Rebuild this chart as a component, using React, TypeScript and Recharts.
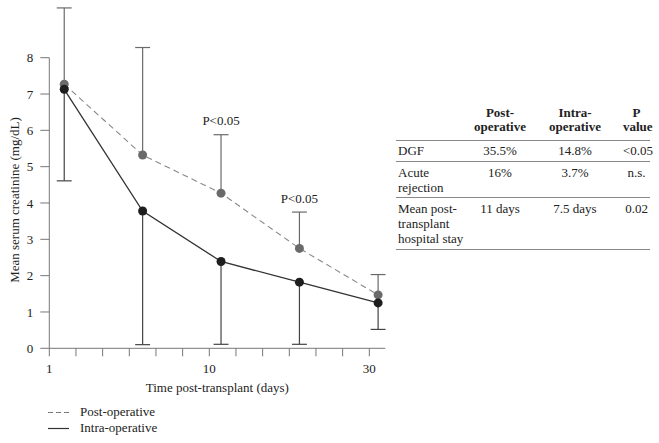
import React from "react";
import { ComposedChart, Line, XAxis, YAxis, ReferenceLine, ReferenceDot, Legend } from "recharts";

// position on the (non-linear) time axis, in tick steps: day 1 -> 0, day 10 -> 6, day 30 -> 12
const timePoints = [0.56, 3.5, 6.44, 9.38, 12.33];

const postMean = [7.27, 5.32, 4.27, 2.75, 1.47];
const postErr = [2.1, 2.96, 1.61, 1.0, 0.56];
const intraMean = [7.13, 3.78, 2.39, 1.82, 1.25];
const intraErr = [2.52, 3.68, 2.28, 1.71, 0.73];
const pLabels = ["", "", "P<0.05", "P<0.05", ""];

const xTicks = [0, 1, 2, 3, 4, 5, 6, 7, 8, 9, 10, 11, 12];
const xTickLabels: Record<number, string> = { 0: "1", 6: "10", 12: "30" };
const yTicks = [0, 1, 2, 3, 4, 5, 6, 7, 8];

const seriesNames = ["Post-operative", "Intra-operative"];

const tableHeader = [["", ""], ["Post-", "operative"], ["Intra-", "operative"], ["P", "value"]];
const tableRows = [
  [["DGF"], ["35.5%"], ["14.8%"], ["<0.05"]],
  [["Acute", "rejection"], ["16%"], ["3.7%"], ["n.s."]],
  [["Mean post-", "transplant", "hospital stay"], ["11 days"], ["7.5 days"], ["0.02"]],
];

const FONT = '"Liberation Serif", "Times New Roman", serif';
const POST_COLOR = "#6a6a6a";
const INTRA_COLOR = "#1e1e1e";
const AXIS_COLOR = "#777";
const CAP = 0.28;

const data = timePoints.map((t, i) => ({ t, post: postMean[i], intra: intraMean[i] }));

function LegendBox() {
  return (
    <div style={{ fontFamily: FONT, fontSize: 13, color: "#222" }}>
      {seriesNames.map((name, i) => (
        <div key={name} style={{ display: "flex", alignItems: "center", height: 16, lineHeight: "16px" }}>
          <svg width={32} height={16} style={{ display: "block" }}>
            <line
              x1={8}
              x2={29}
              y1={8.5}
              y2={8.5}
              stroke={i === 0 ? "#777" : "#333"}
              strokeWidth={1.2}
              strokeDasharray={i === 0 ? "5 3" : undefined}
            />
          </svg>
          <span style={{ marginLeft: 8 }}>{name}</span>
        </div>
      ))}
    </div>
  );
}

export default function App() {
  const cellPad = (col: number) =>
    col === 0 ? "0 0 0 2px" : col === 3 ? "0 0 0 8px" : "0";
  const colWidths = [69, 70, 80, 35];
  const rowPads = ["2px 0 3px", "3px 0 2px", "3px 0 3px"];

  return (
    <div style={{ position: "absolute", left: 0, top: 0, width: 659, height: 443, fontFamily: FONT, background: "#fff" }}>
      <ComposedChart
        width={659}
        height={443}
        data={data}
        margin={{ top: 3.2, right: 273.7, bottom: 50.7, left: 9.3 }}
        style={{ fontFamily: FONT }}
      >
        <XAxis
          dataKey="t"
          type="number"
          domain={[0, 12.6]}
          ticks={xTicks}
          interval={0}
          tickFormatter={(v: number) => xTickLabels[v] ?? ""}
          stroke={AXIS_COLOR}
          tickSize={8}
          tickMargin={7}
          height={44}
          tick={{ fill: "#222", fontSize: 13 }}
          label={{ value: "Time post-transplant (days)", position: "insideBottom", offset: 0, fill: "#222", fontSize: 13 }}
        />
        <YAxis
          type="number"
          domain={[0, 9.5]}
          ticks={yTicks}
          interval={0}
          axisLine={false}
          stroke={AXIS_COLOR}
          tickSize={9}
          tickMargin={7}
          width={40}
          tick={{ fill: "#222", fontSize: 13 }}
        />
        <ReferenceLine segment={[{ x: 0, y: 0 }, { x: 0, y: 8 }]} stroke={AXIS_COLOR} ifOverflow="visible" />

        {timePoints.map((t, i) => (
          <ReferenceLine
            key={"pv" + i}
            segment={[{ x: t, y: postMean[i] }, { x: t, y: postMean[i] + postErr[i] }]}
            stroke={POST_COLOR}
            strokeWidth={1.2}
            ifOverflow="visible"
          />
        ))}
        {timePoints.map((t, i) => (
          <ReferenceLine
            key={"pc" + i}
            segment={[{ x: t - CAP, y: postMean[i] + postErr[i] }, { x: t + CAP, y: postMean[i] + postErr[i] }]}
            stroke={POST_COLOR}
            strokeWidth={1.2}
            ifOverflow="visible"
          />
        ))}
        {timePoints.map((t, i) => (
          <ReferenceLine
            key={"iv" + i}
            segment={[{ x: t, y: intraMean[i] }, { x: t, y: intraMean[i] - intraErr[i] }]}
            stroke="#444"
            strokeWidth={1.2}
            ifOverflow="visible"
          />
        ))}
        {timePoints.map((t, i) => (
          <ReferenceLine
            key={"ic" + i}
            segment={[{ x: t - CAP, y: intraMean[i] - intraErr[i] }, { x: t + CAP, y: intraMean[i] - intraErr[i] }]}
            stroke="#444"
            strokeWidth={1.2}
            ifOverflow="visible"
          />
        ))}
        {timePoints.map((t, i) =>
          pLabels[i] ? (
            <ReferenceDot
              key={"pl" + i}
              x={t}
              y={postMean[i] + postErr[i]}
              r={0}
              fill="none"
              stroke="none"
              ifOverflow="visible"
              label={{ value: pLabels[i], position: "top", offset: 9.5, fill: "#222", fontSize: 13 }}
            />
          ) : null
        )}

        <Line
          dataKey="post"
          name={seriesNames[0]}
          type="linear"
          stroke="#888"
          strokeWidth={1.1}
          strokeDasharray="6 4"
          dot={{ r: 4.5, fill: POST_COLOR, stroke: POST_COLOR, strokeWidth: 0 }}
          activeDot={false}
          isAnimationActive={false}
        />
        <Line
          dataKey="intra"
          name={seriesNames[1]}
          type="linear"
          stroke="#333"
          strokeWidth={1.3}
          dot={{ r: 4.5, fill: INTRA_COLOR, stroke: INTRA_COLOR, strokeWidth: 0 }}
          activeDot={false}
          isAnimationActive={false}
        />
        <Legend
          layout="vertical"
          align="center"
          verticalAlign="middle"
          wrapperStyle={{ left: 40, top: 404, width: 200 }}
          content={() => <LegendBox />}
        />
      </ComposedChart>

      <div
        style={{
          position: "absolute",
          left: 14,
          top: 200,
          transform: "translate(-50%, -50%) rotate(-90deg)",
          whiteSpace: "nowrap",
          fontSize: 13,
          color: "#222",
          lineHeight: "15px",
        }}
      >
        Mean serum creatinine (mg/dL)
      </div>

      <table
        style={{
          position: "absolute",
          left: 396,
          top: 106,
          width: 254,
          borderCollapse: "collapse",
          fontSize: 13,
          color: "#222",
          tableLayout: "fixed",
        }}
      >
        <colgroup>
          {colWidths.map((w, i) => (
            <col key={i} style={{ width: w }} />
          ))}
        </colgroup>
        <thead>
          <tr style={{ borderBottom: "1px solid #888" }}>
            {tableHeader.map((h, c) => (
              <th
                key={c}
                style={{
                  fontWeight: "bold",
                  lineHeight: "14px",
                  padding: c === 3 ? "0 0 6px 8px" : "0 0 6px",
                  textAlign: "center",
                  verticalAlign: "bottom",
                }}
              >
                {h.map((l, k) => (
                  <div key={k}>{l || "\u00a0"}</div>
                ))}
              </th>
            ))}
          </tr>
        </thead>
        <tbody>
          {tableRows.map((row, r) => (
            <tr key={r} style={{ borderBottom: "1px solid #888" }}>
              {row.map((cell, c) => (
                <td
                  key={c}
                  style={{
                    lineHeight: "15px",
                    padding: rowPads[r],
                    paddingLeft: c === 0 ? 2 : c === 3 ? 8 : 0,
                    textAlign: c === 0 ? "left" : "center",
                    verticalAlign: "top",
                    whiteSpace: "nowrap",
                  }}
                >
                  {cell.map((l, k) => (
                    <div key={k}>{l}</div>
                  ))}
                </td>
              ))}
            </tr>
          ))}
        </tbody>
      </table>
    </div>
  );
}
